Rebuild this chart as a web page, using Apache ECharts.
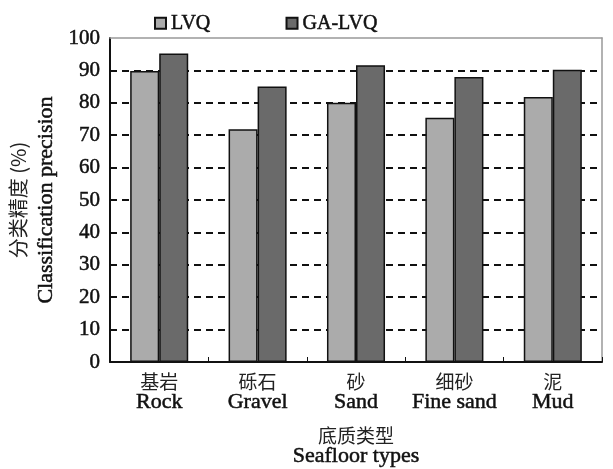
<!DOCTYPE html>
<html><head><meta charset="utf-8">
<script src="https://cdn.jsdelivr.net/npm/echarts@6/dist/echarts.min.js"></script>
<style>html,body{margin:0;padding:0;background:#fff}#c{width:613px;height:469px}</style>
</head><body><div id="c"></div>
<script>
const categoriesCn = ['基岩', '砾石', '砂', '细砂', '泥'];
const categoriesEn = ['Rock', 'Gravel', 'Sand', 'Fine sand', 'Mud'];
const lvq = [89.8, 71.8, 80.0, 75.4, 81.8];
const galvq = [95.2, 85.0, 91.6, 88.0, 90.2];
const yTicks = [0, 10, 20, 30, 40, 50, 60, 70, 80, 90, 100];
const categories = categoriesCn.map((c, i) => c + '\n' + categoriesEn[i]);
const SERIF = '"Liberation Serif", "Times New Roman", serif';
const CJK = '"Noto Sans CJK SC", sans-serif';
const heavy = { textBorderColor: '#111', textBorderWidth: 0.5 };
const chart = echarts.init(document.getElementById('c'));
const gridColors = yTicks.map(v => (v === 0 || v === 100) ? 'rgba(0,0,0,0)' : '#111');
chart.setOption({
  animation: false,
  backgroundColor: '#fff',
  textStyle: { fontFamily: SERIF },
  legend: {
    top: 8, left: 149, itemGap: 75, itemWidth: 11, itemHeight: 11, icon: 'rect',
    textStyle: Object.assign({ fontFamily: SERIF, fontSize: 20, color: '#111' }, heavy),
    data: ['LVQ', 'GA-LVQ']
  },
  grid: { left: 110, right: 11, top: 38, bottom: 107, outerBoundsMode: 'none', containLabel: false },
  xAxis: [{
    type: 'category', data: categories, position: 'bottom',
    axisLine: { lineStyle: { color: '#111', width: 2 } },
    axisTick: { show: true, inside: true, length: 5, lineStyle: { color: '#111' } },
    axisLabel: {
      margin: 10, color: '#111',
      formatter: v => { const p = v.split('\n'); return '{cn|' + p[0] + '}\n{en|' + p[1] + '}'; },
      rich: {
        cn: { fontFamily: CJK, fontSize: 19, color: '#222', lineHeight: 20 },
        en: Object.assign({ fontFamily: SERIF, fontSize: 22, color: '#111', lineHeight: 20 }, heavy)
      }
    },
    name: '{cn|底质类型}\n{en|Seafloor types}', nameLocation: 'middle', nameGap: 63,
    nameTextStyle: {
      rich: {
        cn: { fontFamily: CJK, fontSize: 19, color: '#222', lineHeight: 21 },
        en: Object.assign({ fontFamily: SERIF, fontSize: 22, color: '#111', lineHeight: 21 }, heavy)
      }
    }
  }, {
    type: 'category', data: categories, position: 'top',
    axisLine: { show: true, onZero: false, lineStyle: { color: '#999', width: 1.5 } },
    axisTick: { show: false }, axisLabel: { show: false }
  }],
  yAxis: [{
    type: 'value', min: 0, max: 100, interval: 10,
    axisLine: { show: true, lineStyle: { color: '#111', width: 2 } },
    axisTick: { show: false },
    axisLabel: Object.assign({ fontFamily: SERIF, fontSize: 21, color: '#111', margin: 10 }, heavy),
    splitLine: { show: true, lineStyle: { color: gridColors, type: [7, 5], width: 2 } },
    name: '{cn|分类精度 (%)}\n{en|Classification precision}', nameLocation: 'middle', nameGap: 39, nameRotate: 90,
    nameTextStyle: {
      rich: {
        cn: { fontFamily: CJK, fontSize: 20, color: '#222', lineHeight: 28 },
        en: Object.assign({ fontFamily: SERIF, fontSize: 22, color: '#111', lineHeight: 28 }, heavy)
      }
    }
  }, {
    type: 'value', min: 0, max: 100, interval: 10, position: 'right',
    axisLine: { show: true, onZero: false, lineStyle: { color: '#999', width: 1.5 } },
    axisTick: { show: false }, axisLabel: { show: false }, splitLine: { show: false }
  }],
  series: [{
    name: 'LVQ', type: 'bar', data: lvq, barGap: '0%', barCategoryGap: '41%',
    itemStyle: { color: '#ababab', borderColor: '#111', borderWidth: 1.5 }
  }, {
    name: 'GA-LVQ', type: 'bar', data: galvq, barGap: '0%', barCategoryGap: '41%',
    itemStyle: { color: '#6a6a6a', borderColor: '#111', borderWidth: 1.5 }
  }]
});
</script></body></html>
